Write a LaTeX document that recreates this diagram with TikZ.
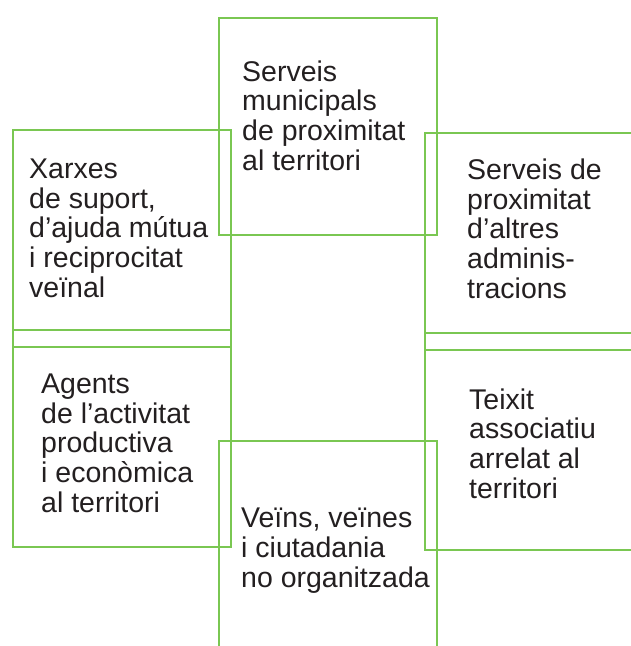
\documentclass[tikz,border=0pt]{standalone}
\usepackage{fontspec}
\setmainfont{Liberation Sans}
\usetikzlibrary{positioning}
\definecolor{leaf}{RGB}{122,199,82}
\definecolor{ink}{RGB}{35,31,32}

\begin{document}
\begin{tikzpicture}[x=1pt,y=-1pt,
	sq/.style={draw=leaf, line width=1.8pt, rectangle, inner sep=0pt,
	           minimum width=218pt, minimum height=217pt, anchor=north west},
	lbl/.style={anchor=base west, align=left, inner sep=0pt, text=ink,
	            font=\fontsize{28.5}{29.6}\selectfont}]

	\useasboundingbox (0,0) rectangle (631,646);
	\clip (0,0) rectangle (631,646);

	% the six squares
	\node[sq] (xarxes) at (12,129) {};
	\node[sq] (agents) at (12,329) {};
	\node[sq] (municipals) at (218,17) {};
	\node[sq] (altres) at (424,132) {};
	\node[sq] (teixit) at (424,332) {};
	\node[sq] (veins) at (218,440) {};

	% texts (anchored at the baseline of their last line)
	\node[lbl] (xarxesT) at (29,297) {Xarxes\\de suport,\\d’ajuda mútua\\i reciprocitat\\veïnal};
	\node[lbl] (municipalsT) at (242,170) {Serveis\\municipals\\de proximitat\\al territori};
	\node[lbl] (altresT) at (467,298) {Serveis de\\proximitat\\d’altres\\adminis-\\tracions};
	\node[lbl] (agentsT) at (41,512) {Agents\\de l’activitat\\productiva\\i econòmica\\al territori};
	\node[lbl] (teixitT) at (469,498) {Teixit\\associatiu\\arrelat al\\territori};
	\node[lbl] (veinsT) at (241,587) {Veïns, veïnes\\i ciutadania\\no organitzada};
\end{tikzpicture}
\end{document}
